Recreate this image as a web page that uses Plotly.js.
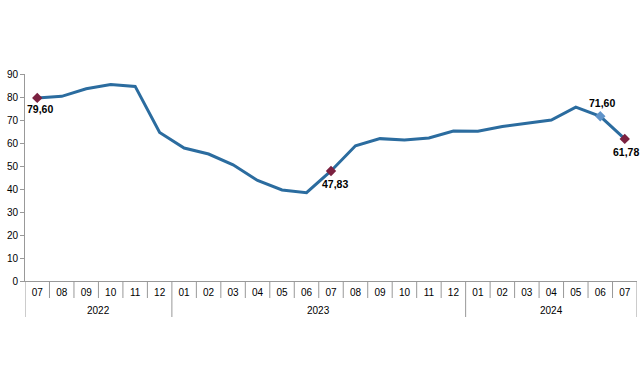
<!DOCTYPE html>
<html>
<head>
<meta charset="utf-8">
<script src="https://cdn.plot.ly/plotly-3.0.1.min.js"></script>
<style>html,body{margin:0;padding:0;background:#fff;}#chart{width:641px;height:380px;}</style>
</head>
<body>
<div id="chart"></div>
<script>
const years = ["2022","2022","2022","2022","2022","2022",
  "2023","2023","2023","2023","2023","2023","2023","2023","2023","2023","2023","2023",
  "2024","2024","2024","2024","2024","2024","2024"];
const months = ["07","08","09","10","11","12",
  "01","02","03","04","05","06","07","08","09","10","11","12",
  "01","02","03","04","05","06","07"];
const values = [79.60,80.3,83.6,85.4,84.6,64.6,
  57.8,55.2,50.5,43.7,39.6,38.4,47.83,58.8,61.9,61.3,62.2,65.2,
  65.1,67.2,68.6,70.0,75.6,71.60,61.78];
const highlightIdx = [0,12,23,24];
const highlightLabels = ["79,60","47,83","71,60","61,78"];
const highlightColors = ["#7b2140","#7b2140","#5f93c9","#7b2140"];
// label offsets in px (x right, y up)
const labelDx = [3,4,2,1];
const labelDy = [-11,-13,13,-13];

const idx = months.map((m,i)=>i);
const H = 207; // plot area height in px (for paper-coord conversion)
const sepColor = '#999';

// month separators and year dividers
const shapes = [];
for (let i = 0; i < idx.length - 1; i++) {
  const yearChange = years[i] !== years[i+1];
  shapes.push({type:'line', xref:'x', yref:'paper', x0:i+0.5, x1:i+0.5,
    y0:0, y1: yearChange ? -36/H : -17/H, line:{color:sepColor, width:1}});
}
shapes.push({type:'line', xref:'x', yref:'paper', x0:-0.5, x1:-0.5, y0:0, y1:-36/H, line:{color:sepColor, width:1}});
shapes.push({type:'line', xref:'x', yref:'paper', x0:idx.length-0.5, x1:idx.length-0.5, y0:0, y1:-36/H, line:{color:sepColor, width:1}});

// year labels
const uniqYears = [...new Set(years)];
const annotations = uniqYears.map(y => {
  const ii = idx.filter(i => years[i] === y);
  const c = (ii[0] + ii[ii.length-1]) / 2;
  return {xref:'x', yref:'paper', x:c, y:-29/H, text:y, showarrow:false,
    xanchor:'center', yanchor:'middle', font:{family:'Liberation Sans, Arial', size:10, color:'#000'}};
});
highlightIdx.forEach((i,k) => {
  annotations.push({xref:'x', yref:'y', x:i, y:values[i], text:highlightLabels[k], showarrow:false,
    xanchor:'center', yanchor:'middle', xshift:labelDx[k], yshift:labelDy[k],
    font:{family:'Liberation Sans, Arial', size:10.5, color:'#000', weight:'bold'}});
});

const lineTrace = {
  x: idx, y: values, type:'scatter', mode:'lines',
  line:{color:'#2b6c9f', width:3}, hoverinfo:'skip'
};
const hlTrace = {
  x: highlightIdx, y: highlightIdx.map(i=>values[i]),
  type:'scatter', mode:'markers',
  marker:{symbol:'diamond', size:8, color:highlightColors},
  cliponaxis:false
};
const layout = {
  width:641, height:380,
  margin:{l:25, r:4, t:74, b:99},
  paper_bgcolor:'#fff', plot_bgcolor:'#fff',
  showlegend:false,
  font:{family:'Liberation Sans, Arial', size:10, color:'#000'},
  yaxis:{range:[0,90], dtick:10, showgrid:false, zeroline:false,
    showline:true, linecolor:sepColor, linewidth:1, ticks:'outside', ticklen:4, tickcolor:sepColor,
    tickfont:{size:10}},
  xaxis:{range:[-0.5, idx.length-0.5], showgrid:false, zeroline:false,
    showline:true, linecolor:sepColor, linewidth:1,
    tickvals: idx, ticktext: months, ticks:'', ticklabelstandoff:2,
    tickfont:{size:10}},
  shapes: shapes,
  annotations: annotations
};
Plotly.newPlot('chart',[lineTrace,hlTrace],layout,{displayModeBar:false,staticPlot:true});
</script>
</body>
</html>
